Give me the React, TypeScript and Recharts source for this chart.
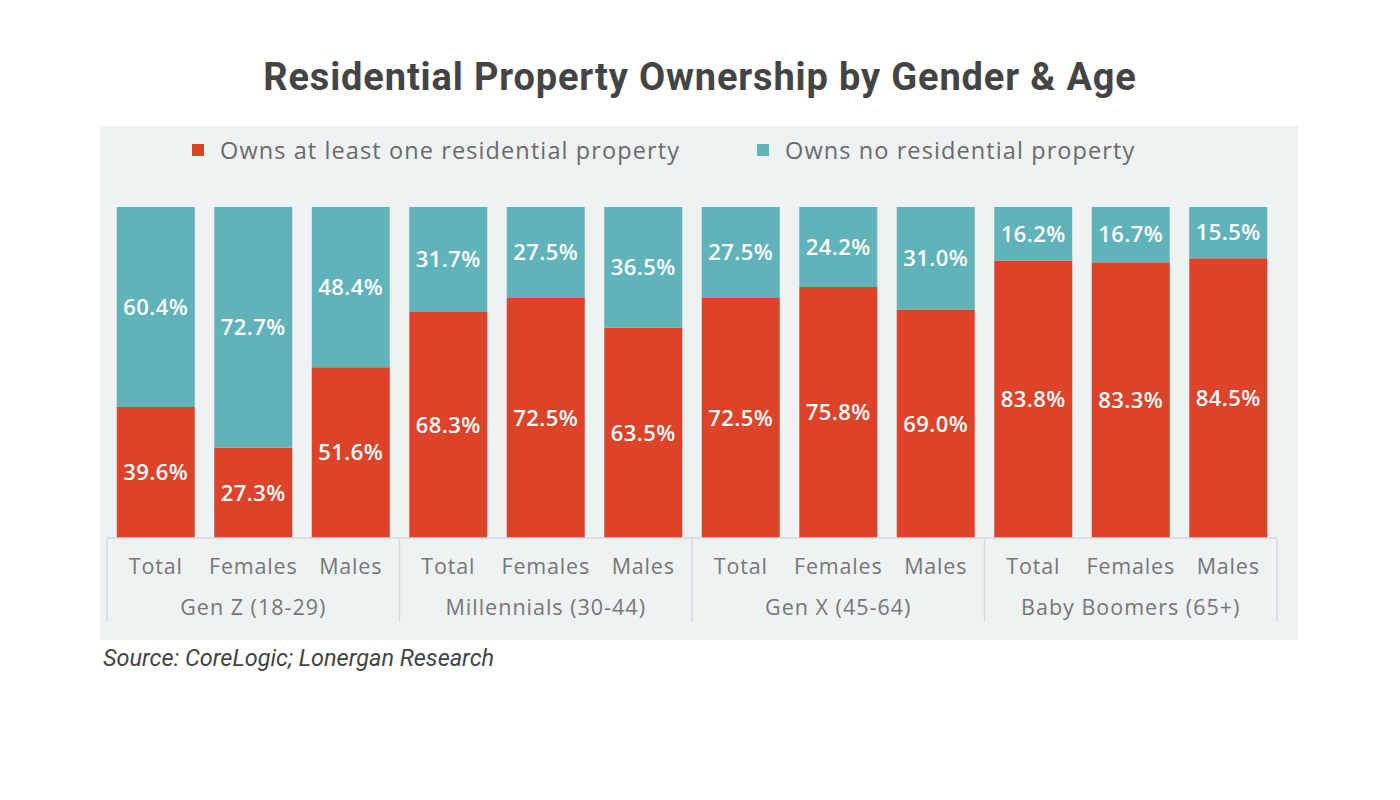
import React from "react";
import { BarChart, Bar, XAxis, YAxis, Legend, LabelList } from "recharts";

const categories = ["Total", "Females", "Males", "Total", "Females", "Males", "Total", "Females", "Males", "Total", "Females", "Males"];
const groups = ["Gen Z (18-29)", "Millennials (30-44)", "Gen X (45-64)", "Baby Boomers (65+)"];
const ownsValues = [39.6, 27.3, 51.6, 68.3, 72.5, 63.5, 72.5, 75.8, 69.0, 83.8, 83.3, 84.5];
const noneValues = [60.4, 72.7, 48.4, 31.7, 27.5, 36.5, 27.5, 24.2, 31.0, 16.2, 16.7, 15.5];

const data = categories.map((c, i) => ({
  key: i,
  category: c,
  group: groups[Math.floor(i / 3)],
  owns: ownsValues[i],
  none: noneValues[i],
}));

const RED = "#dd4329";
const TEAL = "#60b4b9";
const PANEL_W = 1198;
const PANEL_H = 514;
const MARGIN = { top: 10, right: 21, bottom: 12, left: 7 };
const LEGEND_H = 71;
const AXIS_H = 90;
const BAND = (PANEL_W - MARGIN.left - MARGIN.right) / categories.length;
const FONT = "Open Sans, sans-serif";

const Tick = (props: any) => {
  const { x, y, index, payload } = props;
  const d = data[index] ?? data[payload?.index ?? 0];
  const pos = index % 3;
  return (
    <g>
      <text x={x} y={y + 30} textAnchor="middle" dominantBaseline="middle" fill="#767676" fontSize={21.5} letterSpacing={0.8} fontFamily={FONT}>
        {d.category}
      </text>
      {pos === 1 && (
        <text x={x} y={y + 71} textAnchor="middle" dominantBaseline="middle" fill="#767676" fontSize={21.5} letterSpacing={1} fontFamily={FONT}>
          {d.group}
        </text>
      )}
      {pos === 0 && <line x1={x - BAND / 2} x2={x - BAND / 2} y1={y} y2={y + 84} stroke="#d6d9db" strokeWidth={1.5} />}
      {index === categories.length - 1 && (
        <line x1={x + BAND / 2} x2={x + BAND / 2} y1={y} y2={y + 84} stroke="#d6d9db" strokeWidth={1.5} />
      )}
    </g>
  );
};

const legendLeft = [92, 657];

const LegendContent = (props: any) => {
  const { payload } = props;
  return (
    <div style={{ position: "relative", height: LEGEND_H, width: PANEL_W }}>
      {(payload || []).map((p: any, i: number) => (
        <div key={i} style={{ position: "absolute", left: legendLeft[i], top: 0, height: 28, display: "flex", alignItems: "center" }}>
          <div style={{ width: 12, height: 12, background: p.color, marginRight: 16 }} />
          <span style={{ fontFamily: FONT, fontSize: 23.5, letterSpacing: 1.1, color: "#6a6a6a" }}>{p.value}</span>
        </div>
      ))}
    </div>
  );
};

const fmt = (v: any) => `${Number(v).toFixed(1)}%`;

export default function App() {
  return (
    <div style={{ position: "absolute", left: 0, top: 0, width: 1400, height: 800, background: "#fff" }}>
      <div
        style={{
          position: "absolute",
          left: 0,
          top: 52,
          width: 1400,
          textAlign: "center",
          fontFamily: "Roboto, sans-serif",
          fontWeight: 700,
          fontSize: 38,
          letterSpacing: 0.85,
          color: "#444",
          lineHeight: "50px",
        }}
      >
        Residential Property Ownership by Gender &amp; Age
      </div>
      <div style={{ position: "absolute", left: 100, top: 126, width: PANEL_W, height: PANEL_H, background: "#eff2f3" }}>
        <BarChart width={PANEL_W} height={PANEL_H} data={data} margin={MARGIN} barCategoryGap="10%">
          <Legend verticalAlign="top" align="left" content={<LegendContent />} wrapperStyle={{ left: 0, top: MARGIN.top }} height={LEGEND_H} />
          <XAxis
            dataKey="key"
            interval={0}
            height={AXIS_H}
            tickLine={false}
            tickSize={0}
            tickMargin={0}
            axisLine={{ stroke: "#d6d9db", strokeWidth: 1.5 }}
            tick={<Tick />}
          />
          <YAxis hide domain={[0, 100]} />
          <Bar dataKey="owns" name="Owns at least one residential property" stackId="a" fill={RED} isAnimationActive={false}>
            <LabelList dataKey="owns" position="center" formatter={fmt} fill="#fff" fontSize={22} letterSpacing={0.4} fontFamily={FONT} fontWeight={600} />
          </Bar>
          <Bar dataKey="none" name="Owns no residential property" stackId="a" fill={TEAL} isAnimationActive={false}>
            <LabelList dataKey="none" position="center" formatter={fmt} fill="#fff" fontSize={22} letterSpacing={0.4} fontFamily={FONT} fontWeight={600} />
          </Bar>
        </BarChart>
      </div>
      <div
        style={{
          position: "absolute",
          left: 103,
          top: 644,
          fontFamily: "Roboto, sans-serif",
          fontStyle: "italic",
          fontSize: 23.5,
          color: "#444",
          lineHeight: "28px",
        }}
      >
        Source: CoreLogic; Lonergan Research
      </div>
    </div>
  );
}
